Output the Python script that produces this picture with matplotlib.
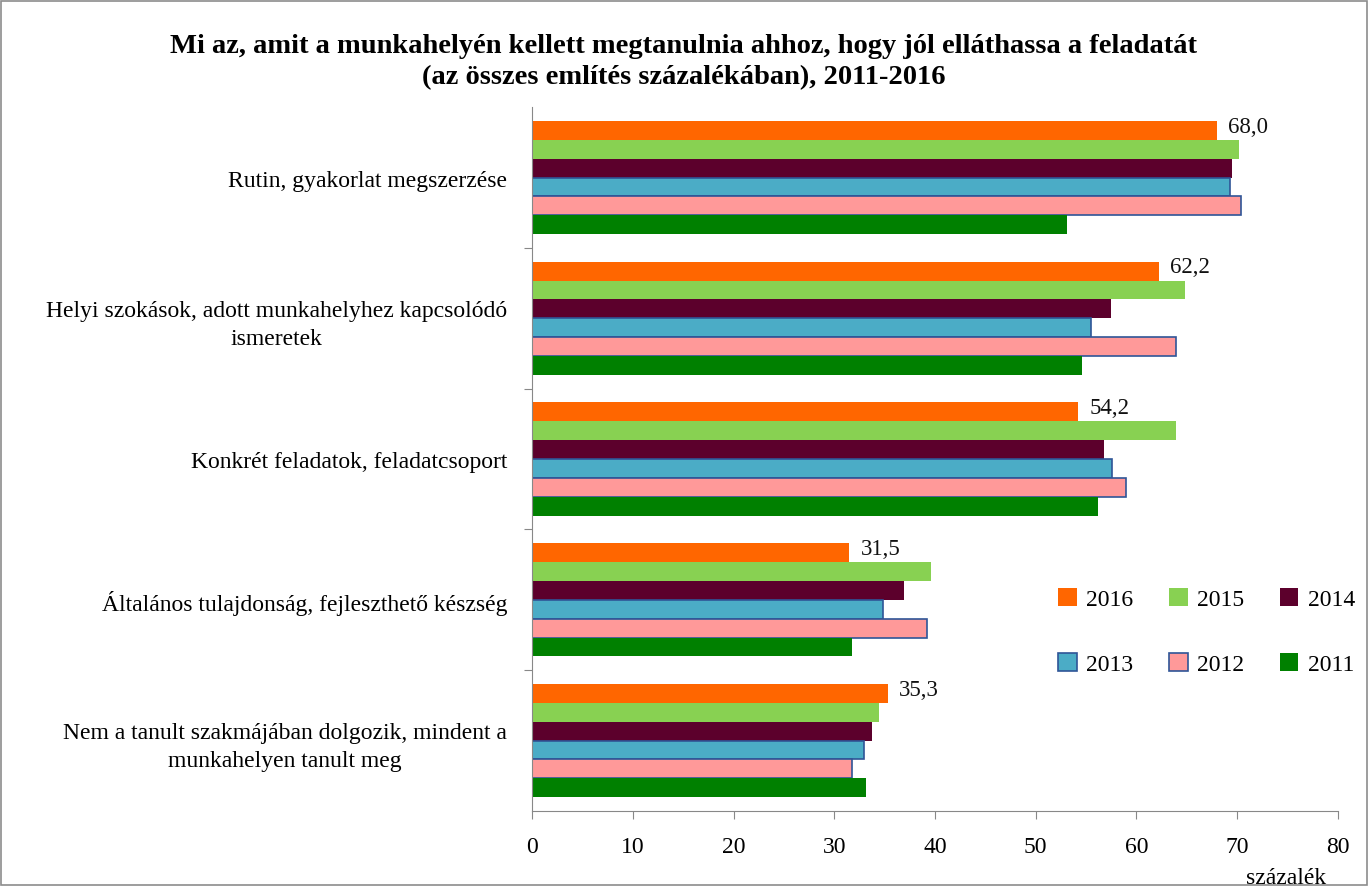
import matplotlib
matplotlib.use("Agg")
import matplotlib.pyplot as plt
from matplotlib.patches import Rectangle
import numpy as np

plt.rcParams['font.family'] = ['Liberation Serif', 'DejaVu Serif']

categories = [
    "Rutin, gyakorlat megszerzése",
    "Helyi szokások, adott munkahelyhez kapcsolódó\nismeretek",
    "Konkrét feladatok, feladatcsoport",
    "Általános tulajdonság, fejleszthető készség",
    "Nem a tanult szakmájában dolgozik, mindent a\nmunkahelyen tanult meg",
]
years = ["2016", "2015", "2014", "2013", "2012", "2011"]
v2016 = [68.0, 62.2, 54.2, 31.5, 35.3]
v2015 = [70.2, 64.8, 63.9, 39.6, 34.4]
v2014 = [69.5, 57.5, 56.8, 36.9, 33.7]
v2013 = [69.3, 55.5, 57.6, 34.8, 32.9]
v2012 = [70.4, 63.9, 59.0, 39.2, 31.8]
v2011 = [53.1, 54.6, 56.2, 31.8, 33.1]
series = [v2016, v2015, v2014, v2013, v2012, v2011]

colors = ["#FF6600", "#88D152", "#5C002C", "#4BACC6", "#FF9999", "#008000"]
edges = [None, None, None, "#2F5597", "#2F5597", None]

fs = 17

fig = plt.figure(figsize=(13.68, 8.87), dpi=100)
ax = fig.add_axes([0.389, 0.0846, 0.589, 0.7935])

y = np.arange(len(categories))
h = 0.134
bars = []
for j, (yr, vals) in enumerate(zip(years, series)):
    pos = y + (j - 2.5) * h
    if edges[j]:
        b = ax.barh(pos, vals, height=h, color=colors[j], edgecolor=edges[j],
                    linewidth=1.2, label=yr)
    else:
        b = ax.barh(pos, vals, height=h, color=colors[j], linewidth=0, label=yr)
    bars.append(b)
    if yr == "2016":
        for p, v in zip(pos, vals):
            ax.annotate(f"{v:.1f}".replace(".", ","), (v, p), xytext=(8, 3),
                        textcoords="offset points", va="center", ha="left",
                        fontsize=16.5, color="#111111")

ax.set_xlim(0, 80)
ax.set_ylim(len(categories) - 0.5, -0.5)
ax.set_xticks(range(0, 81, 10))
ax.set_yticks(np.arange(0.5, len(categories) - 0.5, 1))
ax.set_yticklabels([])
ax.set_yticks(y, minor=True)
ax.set_yticklabels(categories, minor=True, fontsize=fs, multialignment="center",
                   linespacing=1.45)
ax.tick_params(axis="y", which="minor", length=0, pad=18)
ax.tick_params(axis="y", which="major", length=6, color="#888888", direction="out")
ax.tick_params(axis="x", length=6, color="#888888", pad=12, labelsize=fs)

for s in ["top", "right"]:
    ax.spines[s].set_visible(False)
for s in ["left", "bottom"]:
    ax.spines[s].set_color("#888888")

ax.set_xlabel("százalék", loc="right", fontsize=fs)
ax.xaxis.set_label_coords(0.985, -0.079)

# legend filled row by row: 2016 2015 2014 / 2013 2012 2011
order = [0, 3, 1, 4, 2, 5]
ax.legend([bars[i] for i in order], [years[i] for i in order], ncol=3,
          loc="center left", bbox_to_anchor=(0.626, 0.255), frameon=False,
          fontsize=fs, handlelength=0.8, handleheight=0.8, handletextpad=0.4,
          labelspacing=1.8, columnspacing=1.5)

fig.suptitle("Mi az, amit a munkahelyén kellett megtanulnia ahhoz, hogy jól elláthassa a feladatát\n"
             "(az összes említés százalékában), 2011-2016",
             fontsize=20.5, fontweight="bold", y=0.962, linespacing=1.32)

fig.patches.append(Rectangle((0.001, 0.001), 0.998, 0.997, transform=fig.transFigure,
                             fill=False, edgecolor="#8c8c8c", linewidth=1.2))

fig.savefig("out.png", dpi=100)
